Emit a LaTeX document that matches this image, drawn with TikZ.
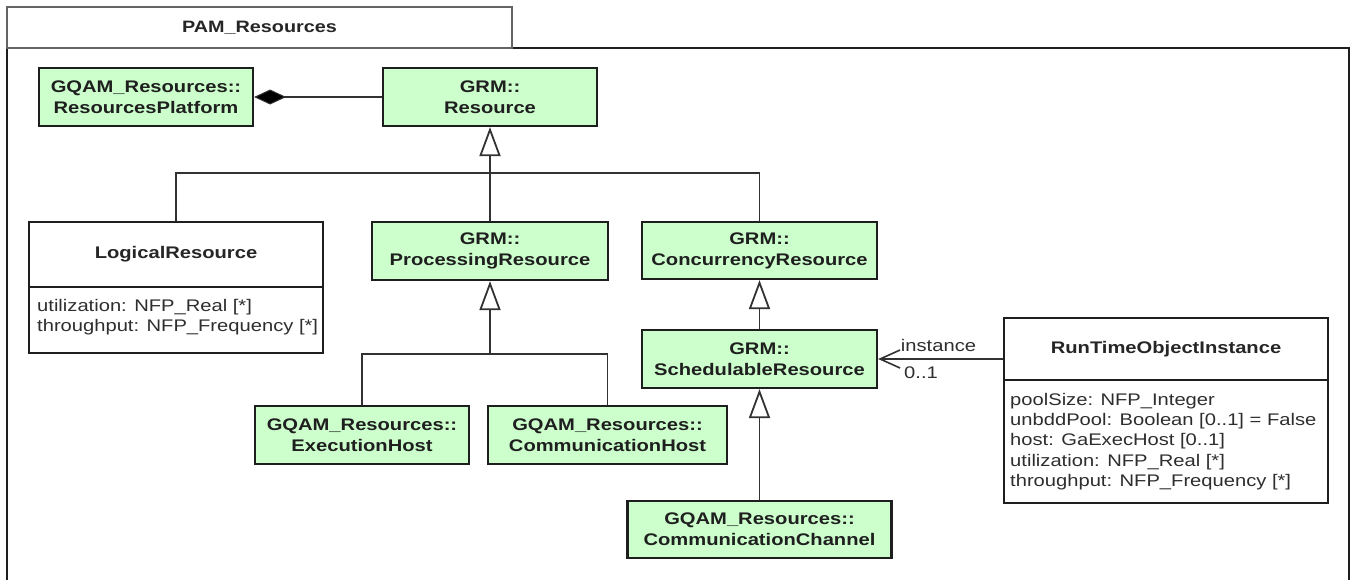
\documentclass[tikz,border=0pt]{standalone}
\usepackage{fontspec}
\setmainfont{Liberation Sans}[FakeStretch=1.2]
\usetikzlibrary{arrows.meta}
\definecolor{boxgreen}{RGB}{204,255,204}
\definecolor{edgec}{RGB}{30,30,30}
\definecolor{linec}{RGB}{50,50,50}
\definecolor{tabc}{RGB}{100,100,100}
\newcommand\clsfont{\fontsize{16.8}{21}\selectfont\bfseries}
\newcommand\attrfont{\fontsize{16.8}{20}\selectfont}
\newcommand\tabfont{\fontsize{16.5}{18}\selectfont\bfseries}
\tikzset{
  cls/.style={draw=edgec, line width=2.2pt, fill=boxgreen, inner sep=0pt, align=center, font=\clsfont, text=black!88},
  plainbox/.style={draw=edgec, line width=2.2pt, fill=white, inner sep=0pt},
  conn/.style={draw=linec, line width=1.8pt},
  gen/.style={conn, -{Triangle[open, length=29pt, width=21pt, fill=white, line width=1.8pt]}},
  comp/.style={conn, -{Diamond[length=32pt, width=15pt, fill=black, line width=1pt]}},
  assoc/.style={conn, -{Straight Barb[length=20pt, width=18pt, line width=1.6pt]}},
  attr/.style={inner sep=0pt, anchor=west, font=\attrfont, text=black!82},
  lbl/.style={inner sep=0pt, font=\attrfont, text=black!82},
  title/.style={inner sep=0pt, font=\clsfont, text=black!85},
}
\begin{document}
\begin{tikzpicture}[x=1pt,y=-1pt]
\useasboundingbox (0,0) rectangle (1354,579);
\clip (0,0) rectangle (1354,579);
\fill[white] (0,0) rectangle (1354,579);

% package frame and tab
\draw[line width=2.4pt, draw=edgec] (7,600) -- (7,48) -- (1349,48) -- (1349,600);
\node[draw=tabc, line width=2pt, minimum width=505pt, minimum height=41pt, inner sep=0pt, font=\tabfont, text=black!85] (tab) at (259.5,27.5) {PAM\_Resources};

% classes
\node[cls, minimum width=214pt, minimum height=58pt] (rp) at (146,97) {GQAM\_Resources::\\ResourcesPlatform};
\node[cls, minimum width=214pt, minimum height=58pt] (res) at (490,97) {GRM::\\Resource};
\node[cls, minimum width=236pt, minimum height=58pt] (proc) at (490,251) {GRM::\\ProcessingResource};
\node[cls, minimum width=235pt, minimum height=57pt] (conc) at (759.5,250.5) {GRM::\\ConcurrencyResource};
\node[cls, minimum width=235pt, minimum height=58pt] (sched) at (759.5,359) {GRM::\\SchedulableResource};
\node[cls, minimum width=214pt, minimum height=58pt] (exec) at (362,435) {GQAM\_Resources::\\ExecutionHost};
\node[cls, minimum width=239pt, minimum height=58pt] (commh) at (607.5,435) {GQAM\_Resources::\\CommunicationHost};
\node[cls, minimum width=264pt, minimum height=57pt] (chan) at (759.5,529.5) {GQAM\_Resources::\\CommunicationChannel};

% LogicalResource
\node[plainbox, minimum width=294pt, minimum height=131pt] (logical) at (176,287.5) {};
\draw[line width=2.2pt, draw=edgec] (logical.west |- 0,287) -- (logical.east |- 0,287);
\node[title] (logicalname) at (176,254) {LogicalResource};
\node[attr] (la1) at (37,307) {utilization: NFP\_Real [*]};
\node[attr] (la2) at (37,327) {throughput: NFP\_Frequency [*]};

% RunTimeObjectInstance
\node[plainbox, minimum width=324pt, minimum height=185pt] (rto) at (1166,410.5) {};
\draw[line width=2.2pt, draw=edgec] (rto.west |- 0,380) -- (rto.east |- 0,380);
\node[title] (rtoname) at (1166,349) {RunTimeObjectInstance};
\node[attr] (ra1) at (1010,401) {poolSize: NFP\_Integer};
\node[attr] (ra2) at (1010,421) {unbddPool: Boolean [0..1] = False};
\node[attr] (ra3) at (1010,441) {host: GaExecHost [0..1]};
\node[attr] (ra4) at (1010,462) {utilization: NFP\_Real [*]};
\node[attr] (ra5) at (1010,482) {throughput: NFP\_Frequency [*]};

% composition
\draw[comp] (res.west) -- (rp.east);

% generalization trees
\coordinate (j1) at (490,173);
\draw[conn] (logical.north) |- (j1);
\draw[conn] (conc.north) |- (j1);
\draw[conn] (proc.north) -- (j1);
\draw[gen] (j1) -- (res.south);

\coordinate (j2) at (490,354);
\draw[conn] (exec.north) |- (j2);
\draw[conn] (commh.north) |- (j2);
\draw[gen] (j2) -- (proc.south);

\draw[gen] (sched.north) -- (conc.south);
\draw[gen] (chan.north) -- (sched.south);

% association
\coordinate (aend) at (rto.west |- sched.east);
\draw[assoc] (aend) -- (sched.east);
\node[lbl] (instlbl) at (938.5,345) {instance};
\node[lbl] (multlbl) at (921,373) {0..1};
\end{tikzpicture}
\end{document}
